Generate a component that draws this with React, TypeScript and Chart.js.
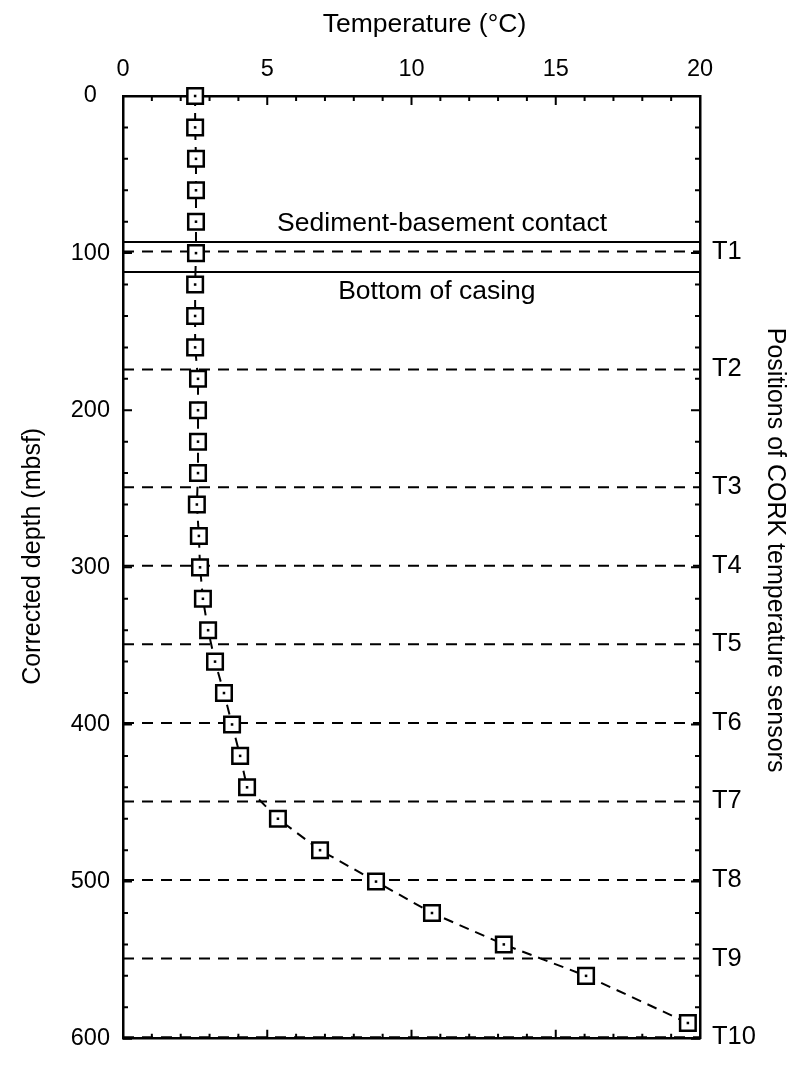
import { useEffect, useRef } from "react";
import { Chart, registerables } from "chart.js";

Chart.register(...registerables);

// Measured profile
const depths = [0, 20, 40, 60, 80, 100, 120, 140, 160, 180, 200, 220, 240, 260, 280, 300, 320, 340, 360, 380, 400, 420, 440, 460, 480, 500, 520, 540, 560, 590];
const temps = [2.5, 2.5, 2.53, 2.53, 2.53, 2.53, 2.5, 2.5, 2.5, 2.6, 2.6, 2.6, 2.6, 2.56, 2.63, 2.67, 2.77, 2.95, 3.19, 3.5, 3.78, 4.06, 4.3, 5.37, 6.83, 8.77, 10.71, 13.2, 16.05, 19.58];

// CORK sensor positions
const sensorDepths = [99, 174, 249, 299, 349, 399, 449, 499, 549, 599];
const sensorLabels = ["T1", "T2", "T3", "T4", "T5", "T6", "T7", "T8", "T9", "T10"];

// Reference horizons
const contactDepth = 93;
const casingDepth = 112;
const horizonLabels = ["Sediment-basement contact", "Bottom of casing"];

// Axis titles
const xTitle = "Temperature (°C)";
const yTitle = "Corrected depth (mbsf)";
const y2Title = "Positions of CORK temperature sensors";

// Axis ranges
const tempMin = 0;
const tempMax = 20;
const depthMin = 0;
const depthMax = 600;

const FONT = "'Liberation Sans', Arial, Helvetica, sans-serif";

const tickPlugin = {
  id: "inwardTicks",
  afterDraw(chart: any) {
    const { ctx, chartArea, scales } = chart;
    const x = scales.x;
    const y = scales.y;
    ctx.save();
    ctx.strokeStyle = "#000";
    ctx.lineWidth = 2;
    for (let t = tempMin; t <= tempMax; t += 1) {
      const px = x.getPixelForValue(t);
      const len = t % 5 === 0 ? 9 : 5;
      ctx.beginPath();
      ctx.moveTo(px, chartArea.top);
      ctx.lineTo(px, chartArea.top + len);
      ctx.moveTo(px, chartArea.bottom);
      ctx.lineTo(px, chartArea.bottom - len);
      ctx.stroke();
    }
    for (let d = depthMin; d <= depthMax; d += 20) {
      const py = y.getPixelForValue(d);
      const len = d % 100 === 0 ? 9 : 5;
      ctx.beginPath();
      ctx.moveTo(chartArea.left, py);
      ctx.lineTo(chartArea.left + len, py);
      ctx.moveTo(chartArea.right, py);
      ctx.lineTo(chartArea.right - len, py);
      ctx.stroke();
    }
    ctx.restore();
  },
};

const textPlugin = {
  id: "horizonText",
  afterDatasetsDraw(chart: any) {
    const { ctx, scales, chartArea } = chart;
    const x = scales.x;
    const y = scales.y;
    ctx.save();
    ctx.fillStyle = "#000";
    ctx.textAlign = "center";
    ctx.textBaseline = "middle";
    ctx.font = `26.5px ${FONT}`;
    ctx.fillText(horizonLabels[0], x.getPixelForValue(11.06), y.getPixelForValue(contactDepth - 12));
    ctx.fillText(horizonLabels[1], x.getPixelForValue(10.88), y.getPixelForValue(casingDepth + 12.5));

    // axis titles
    ctx.fillText(xTitle, x.getPixelForValue(10.45), chartArea.top - 71);
    ctx.font = `25px ${FONT}`;
    ctx.save();
    ctx.translate(chartArea.left - 90, y.getPixelForValue(293));
    ctx.rotate(-Math.PI / 2);
    ctx.fillText(yTitle, 0, 0);
    ctx.restore();
    ctx.save();
    ctx.translate(chartArea.right + 75, y.getPixelForValue(289));
    ctx.rotate(Math.PI / 2);
    ctx.fillText(y2Title, 0, 0);
    ctx.restore();
    ctx.restore();
  },
};

export default function App() {
  const ref = useRef<HTMLCanvasElement>(null);

  useEffect(() => {
    if (!ref.current) return;
    const profile = depths.map((d, i) => ({ x: temps[i], y: d }));
    const hLine = (d: number) => [
      { x: tempMin, y: d },
      { x: tempMax, y: d },
    ];
    const sensorSets = sensorDepths.map((d) => ({
      data: hLine(d),
      borderColor: "#000",
      borderWidth: 2,
      borderDash: [11, 8],
      pointRadius: 0,
      showLine: true,
    }));
    const solidSets = [contactDepth, casingDepth].map((d) => ({
      data: hLine(d),
      borderColor: "#000",
      borderWidth: 2,
      pointRadius: 0,
      showLine: true,
    }));

    const chart = new Chart(ref.current, {
      type: "scatter",
      data: {
        datasets: [
          {
            data: profile,
            showLine: false,
            pointStyle: "rect",
            pointRadius: 1.8,
            pointBackgroundColor: "#000",
            pointBorderWidth: 0,
            clip: false,
          } as any,
          {
            data: profile,
            showLine: true,
            borderColor: "#000",
            borderWidth: 2,
            borderDash: [10, 7],
            pointStyle: "rect",
            pointRadius: 11,
            pointBorderWidth: 2.5,
            pointBorderColor: "#000",
            pointBackgroundColor: "#fff",
            clip: false,
          },
          ...solidSets,
          ...sensorSets,
        ],
      },
      options: {
        responsive: false,
        animation: false,
        layout: { padding: 0 },
        plugins: { legend: { display: false }, tooltip: { enabled: false } },
        scales: {
          x: {
            type: "linear",
            position: "top",
            min: tempMin,
            max: tempMax,
            grid: { display: false, drawTicks: false },
            border: { display: true, color: "#000", width: 2.5 },
            ticks: { stepSize: 5, color: "#000", padding: 12, font: { family: FONT, size: 23.5 } },
            afterFit: (s: any) => { s.height = 96; },
          },
          x2: {
            type: "linear",
            position: "bottom",
            min: tempMin,
            max: tempMax,
            grid: { display: false, drawTicks: false },
            border: { display: true, color: "#000", width: 2.5 },
            ticks: { display: false },
            afterFit: (s: any) => { s.height = 13; },
          },
          y: {
            type: "linear",
            position: "left",
            reverse: true,
            min: depthMin,
            max: depthMax,
            grid: { display: false, drawTicks: false },
            border: { display: true, color: "#000", width: 2.5 },
            ticks: { stepSize: 100, color: "#000", padding: 13, crossAlign: "center", font: { family: FONT, size: 23.5 } },
            afterFit: (s: any) => { s.width = 123; },
          },
          y2: {
            type: "linear",
            position: "right",
            reverse: true,
            min: depthMin,
            max: depthMax,
            grid: { display: false, drawTicks: false },
            border: { display: true, color: "#000", width: 2.5 },
            afterBuildTicks: (s: any) => {
              s.ticks = sensorDepths.map((v) => ({ value: v }));
            },
            ticks: {
              autoSkip: false,
              color: "#000",
              padding: 12,
              font: { family: FONT, size: 25.5 },
              callback: (_v: any, i: number) => sensorLabels[i],
            },
            afterFit: (s: any) => { s.width = 90; },
          },
        },
      },
      plugins: [tickPlugin, textPlugin],
    });
    return () => chart.destroy();
  }, []);

  return (
    <div style={{ position: "absolute", left: 0, top: 0, width: 790, height: 1066 }}>
      <canvas ref={ref} width={790} height={1066} style={{ display: "block" }} />
    </div>
  );
}
